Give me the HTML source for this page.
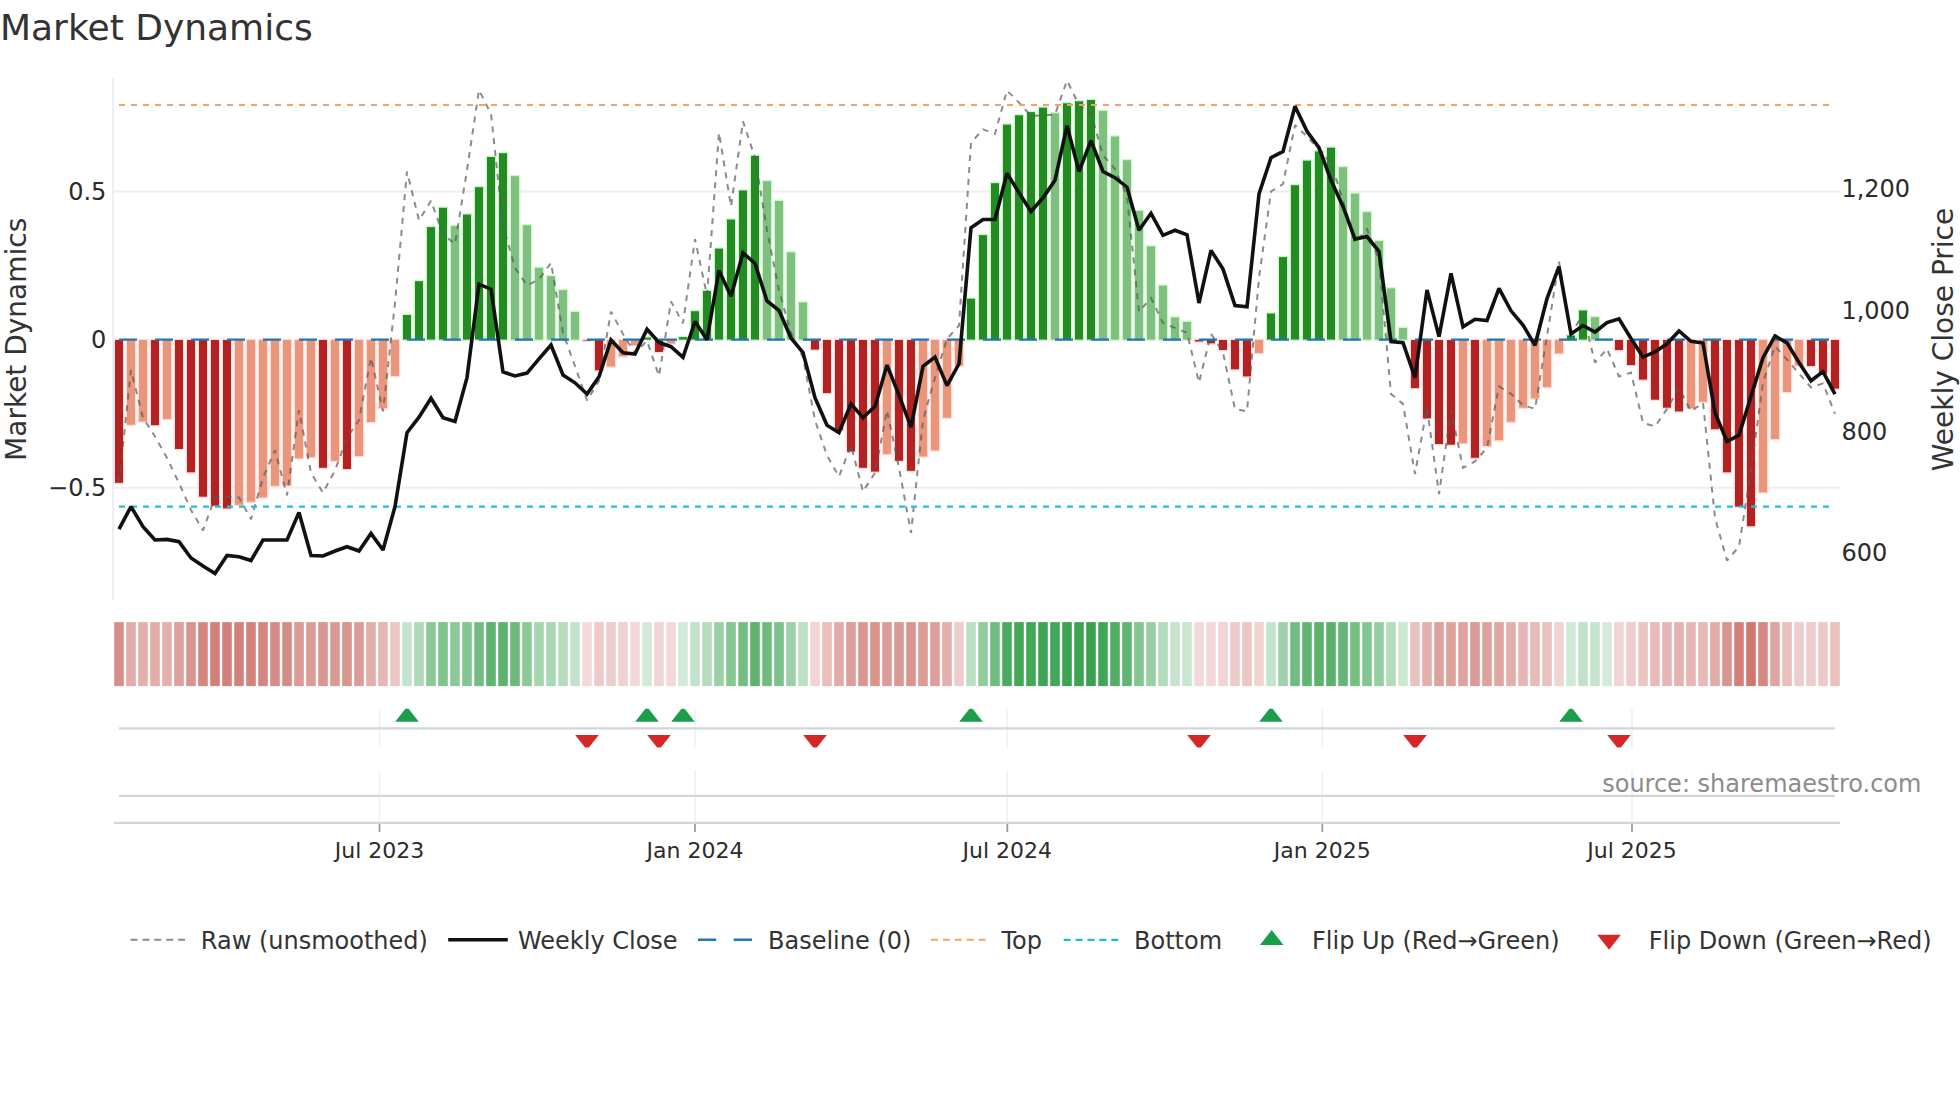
<!DOCTYPE html>
<html lang="en"><head><meta charset="utf-8"><title>Market Dynamics</title>
<style>html,body{margin:0;padding:0;background:#fff;}body{width:1960px;height:1102px;overflow:hidden;}svg{display:block;font-family:"DejaVu Sans", "Liberation Sans", sans-serif;}text{white-space:pre;}</style></head><body>
<svg width="1960" height="1102" viewBox="0 0 1960 1102">
<rect x="0" y="0" width="1960" height="1102" fill="#ffffff"/>
<text x="0" y="40.2" font-size="36" fill="#333333">Market Dynamics</text>
<g id="grid">
<line x1="113" y1="191.4" x2="1840" y2="191.4" stroke="#eeeeee" stroke-width="2"/>
<line x1="113" y1="487.8" x2="1840" y2="487.8" stroke="#eeeeee" stroke-width="2"/>
<line x1="113" y1="78" x2="113" y2="600" stroke="#eeeef6" stroke-width="2"/>
</g>
<g id="bars">
<rect x="115.0" y="340.0" width="8.0" height="142.8" fill="#b22222" fill-opacity="1.00" stroke="#ffd3cf" stroke-width="2.6" stroke-opacity="0.85" paint-order="stroke"/>
<rect x="127.0" y="340.0" width="8.0" height="84.7" fill="#e9967a" fill-opacity="1.00" stroke="#ffd3cf" stroke-width="2.6" stroke-opacity="0.85" paint-order="stroke"/>
<rect x="139.0" y="340.0" width="8.0" height="81.5" fill="#e9967a" fill-opacity="1.00" stroke="#ffd3cf" stroke-width="2.6" stroke-opacity="0.85" paint-order="stroke"/>
<rect x="151.0" y="340.0" width="8.0" height="85.2" fill="#b22222" fill-opacity="1.00" stroke="#ffd3cf" stroke-width="2.6" stroke-opacity="0.85" paint-order="stroke"/>
<rect x="163.0" y="340.0" width="8.0" height="79.0" fill="#e9967a" fill-opacity="1.00" stroke="#ffd3cf" stroke-width="2.6" stroke-opacity="0.85" paint-order="stroke"/>
<rect x="175.0" y="340.0" width="8.0" height="109.0" fill="#b22222" fill-opacity="1.00" stroke="#ffd3cf" stroke-width="2.6" stroke-opacity="0.85" paint-order="stroke"/>
<rect x="187.0" y="340.0" width="8.0" height="132.3" fill="#b22222" fill-opacity="1.00" stroke="#ffd3cf" stroke-width="2.6" stroke-opacity="0.85" paint-order="stroke"/>
<rect x="199.0" y="340.0" width="8.0" height="156.7" fill="#b22222" fill-opacity="1.00" stroke="#ffd3cf" stroke-width="2.6" stroke-opacity="0.85" paint-order="stroke"/>
<rect x="211.0" y="340.0" width="8.0" height="165.7" fill="#b22222" fill-opacity="1.00" stroke="#ffd3cf" stroke-width="2.6" stroke-opacity="0.85" paint-order="stroke"/>
<rect x="223.0" y="340.0" width="8.0" height="168.4" fill="#b22222" fill-opacity="1.00" stroke="#ffd3cf" stroke-width="2.6" stroke-opacity="0.85" paint-order="stroke"/>
<rect x="235.0" y="340.0" width="8.0" height="164.8" fill="#e9967a" fill-opacity="1.00" stroke="#ffd3cf" stroke-width="2.6" stroke-opacity="0.85" paint-order="stroke"/>
<rect x="247.0" y="340.0" width="8.0" height="161.7" fill="#e9967a" fill-opacity="1.00" stroke="#ffd3cf" stroke-width="2.6" stroke-opacity="0.85" paint-order="stroke"/>
<rect x="259.0" y="340.0" width="8.0" height="157.4" fill="#e9967a" fill-opacity="1.00" stroke="#ffd3cf" stroke-width="2.6" stroke-opacity="0.85" paint-order="stroke"/>
<rect x="271.0" y="340.0" width="8.0" height="145.8" fill="#e9967a" fill-opacity="1.00" stroke="#ffd3cf" stroke-width="2.6" stroke-opacity="0.85" paint-order="stroke"/>
<rect x="283.0" y="340.0" width="8.0" height="145.2" fill="#e9967a" fill-opacity="1.00" stroke="#ffd3cf" stroke-width="2.6" stroke-opacity="0.85" paint-order="stroke"/>
<rect x="295.0" y="340.0" width="8.0" height="118.3" fill="#e9967a" fill-opacity="1.00" stroke="#ffd3cf" stroke-width="2.6" stroke-opacity="0.85" paint-order="stroke"/>
<rect x="307.0" y="340.0" width="8.0" height="117.0" fill="#e9967a" fill-opacity="1.00" stroke="#ffd3cf" stroke-width="2.6" stroke-opacity="0.85" paint-order="stroke"/>
<rect x="319.0" y="340.0" width="8.0" height="127.8" fill="#b22222" fill-opacity="1.00" stroke="#ffd3cf" stroke-width="2.6" stroke-opacity="0.85" paint-order="stroke"/>
<rect x="331.0" y="340.0" width="8.0" height="120.8" fill="#e9967a" fill-opacity="1.00" stroke="#ffd3cf" stroke-width="2.6" stroke-opacity="0.85" paint-order="stroke"/>
<rect x="343.0" y="340.0" width="8.0" height="129.0" fill="#b22222" fill-opacity="1.00" stroke="#ffd3cf" stroke-width="2.6" stroke-opacity="0.85" paint-order="stroke"/>
<rect x="355.0" y="340.0" width="8.0" height="116.0" fill="#e9967a" fill-opacity="1.00" stroke="#ffd3cf" stroke-width="2.6" stroke-opacity="0.85" paint-order="stroke"/>
<rect x="367.0" y="340.0" width="8.0" height="82.0" fill="#e9967a" fill-opacity="1.00" stroke="#ffd3cf" stroke-width="2.6" stroke-opacity="0.85" paint-order="stroke"/>
<rect x="379.0" y="340.0" width="8.0" height="68.2" fill="#e9967a" fill-opacity="1.00" stroke="#ffd3cf" stroke-width="2.6" stroke-opacity="0.85" paint-order="stroke"/>
<rect x="391.0" y="340.0" width="8.0" height="35.9" fill="#e9967a" fill-opacity="1.00" stroke="#ffd3cf" stroke-width="2.6" stroke-opacity="0.85" paint-order="stroke"/>
<rect x="403.0" y="315.0" width="8.0" height="24.6" fill="#228b22" fill-opacity="1.00" stroke="#c6f6bf" stroke-width="2.6" stroke-opacity="0.85" paint-order="stroke"/>
<rect x="415.0" y="281.2" width="8.0" height="58.4" fill="#228b22" fill-opacity="1.00" stroke="#c6f6bf" stroke-width="2.6" stroke-opacity="0.85" paint-order="stroke"/>
<rect x="427.0" y="227.1" width="8.0" height="112.5" fill="#228b22" fill-opacity="1.00" stroke="#c6f6bf" stroke-width="2.6" stroke-opacity="0.85" paint-order="stroke"/>
<rect x="439.0" y="207.8" width="8.0" height="131.8" fill="#228b22" fill-opacity="1.00" stroke="#c6f6bf" stroke-width="2.6" stroke-opacity="0.85" paint-order="stroke"/>
<rect x="451.0" y="226.1" width="8.0" height="113.5" fill="#7fbf7f" fill-opacity="1.00" stroke="#c6f6bf" stroke-width="2.6" stroke-opacity="0.85" paint-order="stroke"/>
<rect x="463.0" y="214.5" width="8.0" height="125.1" fill="#228b22" fill-opacity="1.00" stroke="#c6f6bf" stroke-width="2.6" stroke-opacity="0.85" paint-order="stroke"/>
<rect x="475.0" y="187.2" width="8.0" height="152.4" fill="#228b22" fill-opacity="1.00" stroke="#c6f6bf" stroke-width="2.6" stroke-opacity="0.85" paint-order="stroke"/>
<rect x="487.0" y="157.0" width="8.0" height="182.6" fill="#228b22" fill-opacity="1.00" stroke="#c6f6bf" stroke-width="2.6" stroke-opacity="0.85" paint-order="stroke"/>
<rect x="499.0" y="153.2" width="8.0" height="186.4" fill="#228b22" fill-opacity="1.00" stroke="#c6f6bf" stroke-width="2.6" stroke-opacity="0.85" paint-order="stroke"/>
<rect x="511.0" y="176.2" width="8.0" height="163.4" fill="#7fbf7f" fill-opacity="1.00" stroke="#c6f6bf" stroke-width="2.6" stroke-opacity="0.85" paint-order="stroke"/>
<rect x="523.0" y="225.3" width="8.0" height="114.3" fill="#7fbf7f" fill-opacity="1.00" stroke="#c6f6bf" stroke-width="2.6" stroke-opacity="0.85" paint-order="stroke"/>
<rect x="535.0" y="267.9" width="8.0" height="71.7" fill="#7fbf7f" fill-opacity="1.00" stroke="#c6f6bf" stroke-width="2.6" stroke-opacity="0.85" paint-order="stroke"/>
<rect x="547.0" y="276.2" width="8.0" height="63.4" fill="#7fbf7f" fill-opacity="1.00" stroke="#c6f6bf" stroke-width="2.6" stroke-opacity="0.85" paint-order="stroke"/>
<rect x="559.0" y="290.2" width="8.0" height="49.4" fill="#7fbf7f" fill-opacity="1.00" stroke="#c6f6bf" stroke-width="2.6" stroke-opacity="0.85" paint-order="stroke"/>
<rect x="571.0" y="312.0" width="8.0" height="27.6" fill="#7fbf7f" fill-opacity="1.00" stroke="#c6f6bf" stroke-width="2.6" stroke-opacity="0.85" paint-order="stroke"/>
<rect x="583.0" y="340.0" width="8.0" height="0.6" fill="#b22222" fill-opacity="1.00" stroke="#ffd3cf" stroke-width="2.6" stroke-opacity="0.85" paint-order="stroke"/>
<rect x="595.0" y="340.0" width="8.0" height="30.3" fill="#b22222" fill-opacity="1.00" stroke="#ffd3cf" stroke-width="2.6" stroke-opacity="0.85" paint-order="stroke"/>
<rect x="607.0" y="340.0" width="8.0" height="26.4" fill="#e9967a" fill-opacity="1.00" stroke="#ffd3cf" stroke-width="2.6" stroke-opacity="0.85" paint-order="stroke"/>
<rect x="619.0" y="340.0" width="8.0" height="16.3" fill="#e9967a" fill-opacity="1.00" stroke="#ffd3cf" stroke-width="2.6" stroke-opacity="0.85" paint-order="stroke"/>
<rect x="631.0" y="340.0" width="8.0" height="5.2" fill="#e9967a" fill-opacity="1.00" stroke="#ffd3cf" stroke-width="2.6" stroke-opacity="0.85" paint-order="stroke"/>
<rect x="643.0" y="337.6" width="8.0" height="2.0" fill="#228b22" fill-opacity="1.00" stroke="#c6f6bf" stroke-width="2.6" stroke-opacity="0.85" paint-order="stroke"/>
<rect x="655.0" y="340.0" width="8.0" height="12.0" fill="#b22222" fill-opacity="1.00" stroke="#ffd3cf" stroke-width="2.6" stroke-opacity="0.85" paint-order="stroke"/>
<rect x="667.0" y="340.0" width="8.0" height="3.5" fill="#e9967a" fill-opacity="1.00" stroke="#ffd3cf" stroke-width="2.6" stroke-opacity="0.85" paint-order="stroke"/>
<rect x="679.0" y="337.1" width="8.0" height="2.5" fill="#228b22" fill-opacity="1.00" stroke="#c6f6bf" stroke-width="2.6" stroke-opacity="0.85" paint-order="stroke"/>
<rect x="691.0" y="311.2" width="8.0" height="28.4" fill="#228b22" fill-opacity="1.00" stroke="#c6f6bf" stroke-width="2.6" stroke-opacity="0.85" paint-order="stroke"/>
<rect x="703.0" y="291.0" width="8.0" height="48.6" fill="#228b22" fill-opacity="1.00" stroke="#c6f6bf" stroke-width="2.6" stroke-opacity="0.85" paint-order="stroke"/>
<rect x="715.0" y="248.6" width="8.0" height="91.0" fill="#228b22" fill-opacity="1.00" stroke="#c6f6bf" stroke-width="2.6" stroke-opacity="0.85" paint-order="stroke"/>
<rect x="727.0" y="219.5" width="8.0" height="120.1" fill="#228b22" fill-opacity="1.00" stroke="#c6f6bf" stroke-width="2.6" stroke-opacity="0.85" paint-order="stroke"/>
<rect x="739.0" y="190.5" width="8.0" height="149.1" fill="#228b22" fill-opacity="1.00" stroke="#c6f6bf" stroke-width="2.6" stroke-opacity="0.85" paint-order="stroke"/>
<rect x="751.0" y="155.9" width="8.0" height="183.7" fill="#228b22" fill-opacity="1.00" stroke="#c6f6bf" stroke-width="2.6" stroke-opacity="0.85" paint-order="stroke"/>
<rect x="763.0" y="181.2" width="8.0" height="158.4" fill="#7fbf7f" fill-opacity="1.00" stroke="#c6f6bf" stroke-width="2.6" stroke-opacity="0.85" paint-order="stroke"/>
<rect x="775.0" y="201.0" width="8.0" height="138.6" fill="#7fbf7f" fill-opacity="1.00" stroke="#c6f6bf" stroke-width="2.6" stroke-opacity="0.85" paint-order="stroke"/>
<rect x="787.0" y="252.4" width="8.0" height="87.2" fill="#7fbf7f" fill-opacity="1.00" stroke="#c6f6bf" stroke-width="2.6" stroke-opacity="0.85" paint-order="stroke"/>
<rect x="799.0" y="302.5" width="8.0" height="37.1" fill="#7fbf7f" fill-opacity="1.00" stroke="#c6f6bf" stroke-width="2.6" stroke-opacity="0.85" paint-order="stroke"/>
<rect x="811.0" y="340.0" width="8.0" height="9.6" fill="#b22222" fill-opacity="1.00" stroke="#ffd3cf" stroke-width="2.6" stroke-opacity="0.85" paint-order="stroke"/>
<rect x="823.0" y="340.0" width="8.0" height="53.1" fill="#b22222" fill-opacity="1.00" stroke="#ffd3cf" stroke-width="2.6" stroke-opacity="0.85" paint-order="stroke"/>
<rect x="835.0" y="340.0" width="8.0" height="90.2" fill="#b22222" fill-opacity="1.00" stroke="#ffd3cf" stroke-width="2.6" stroke-opacity="0.85" paint-order="stroke"/>
<rect x="847.0" y="340.0" width="8.0" height="111.5" fill="#b22222" fill-opacity="1.00" stroke="#ffd3cf" stroke-width="2.6" stroke-opacity="0.85" paint-order="stroke"/>
<rect x="859.0" y="340.0" width="8.0" height="127.8" fill="#b22222" fill-opacity="1.00" stroke="#ffd3cf" stroke-width="2.6" stroke-opacity="0.85" paint-order="stroke"/>
<rect x="871.0" y="340.0" width="8.0" height="131.6" fill="#b22222" fill-opacity="1.00" stroke="#ffd3cf" stroke-width="2.6" stroke-opacity="0.85" paint-order="stroke"/>
<rect x="883.0" y="340.0" width="8.0" height="114.0" fill="#e9967a" fill-opacity="1.00" stroke="#ffd3cf" stroke-width="2.6" stroke-opacity="0.85" paint-order="stroke"/>
<rect x="895.0" y="340.0" width="8.0" height="120.8" fill="#b22222" fill-opacity="1.00" stroke="#ffd3cf" stroke-width="2.6" stroke-opacity="0.85" paint-order="stroke"/>
<rect x="907.0" y="340.0" width="8.0" height="130.8" fill="#b22222" fill-opacity="1.00" stroke="#ffd3cf" stroke-width="2.6" stroke-opacity="0.85" paint-order="stroke"/>
<rect x="919.0" y="340.0" width="8.0" height="116.5" fill="#e9967a" fill-opacity="1.00" stroke="#ffd3cf" stroke-width="2.6" stroke-opacity="0.85" paint-order="stroke"/>
<rect x="931.0" y="340.0" width="8.0" height="110.3" fill="#e9967a" fill-opacity="1.00" stroke="#ffd3cf" stroke-width="2.6" stroke-opacity="0.85" paint-order="stroke"/>
<rect x="943.0" y="340.0" width="8.0" height="77.7" fill="#e9967a" fill-opacity="1.00" stroke="#ffd3cf" stroke-width="2.6" stroke-opacity="0.85" paint-order="stroke"/>
<rect x="955.0" y="340.0" width="8.0" height="25.6" fill="#e9967a" fill-opacity="1.00" stroke="#ffd3cf" stroke-width="2.6" stroke-opacity="0.85" paint-order="stroke"/>
<rect x="967.0" y="298.7" width="8.0" height="40.9" fill="#228b22" fill-opacity="1.00" stroke="#c6f6bf" stroke-width="2.6" stroke-opacity="0.85" paint-order="stroke"/>
<rect x="979.0" y="235.1" width="8.0" height="104.5" fill="#228b22" fill-opacity="1.00" stroke="#c6f6bf" stroke-width="2.6" stroke-opacity="0.85" paint-order="stroke"/>
<rect x="991.0" y="183.2" width="8.0" height="156.4" fill="#228b22" fill-opacity="1.00" stroke="#c6f6bf" stroke-width="2.6" stroke-opacity="0.85" paint-order="stroke"/>
<rect x="1003.0" y="124.6" width="8.0" height="215.0" fill="#228b22" fill-opacity="1.00" stroke="#c6f6bf" stroke-width="2.6" stroke-opacity="0.85" paint-order="stroke"/>
<rect x="1015.0" y="115.3" width="8.0" height="224.3" fill="#228b22" fill-opacity="1.00" stroke="#c6f6bf" stroke-width="2.6" stroke-opacity="0.85" paint-order="stroke"/>
<rect x="1027.0" y="112.1" width="8.0" height="227.5" fill="#228b22" fill-opacity="1.00" stroke="#c6f6bf" stroke-width="2.6" stroke-opacity="0.85" paint-order="stroke"/>
<rect x="1039.0" y="107.6" width="8.0" height="232.0" fill="#228b22" fill-opacity="1.00" stroke="#c6f6bf" stroke-width="2.6" stroke-opacity="0.85" paint-order="stroke"/>
<rect x="1051.0" y="113.3" width="8.0" height="226.3" fill="#7fbf7f" fill-opacity="1.00" stroke="#c6f6bf" stroke-width="2.6" stroke-opacity="0.85" paint-order="stroke"/>
<rect x="1063.0" y="103.3" width="8.0" height="236.3" fill="#228b22" fill-opacity="1.00" stroke="#c6f6bf" stroke-width="2.6" stroke-opacity="0.85" paint-order="stroke"/>
<rect x="1075.0" y="101.3" width="8.0" height="238.3" fill="#228b22" fill-opacity="1.00" stroke="#c6f6bf" stroke-width="2.6" stroke-opacity="0.85" paint-order="stroke"/>
<rect x="1087.0" y="100.0" width="8.0" height="239.6" fill="#228b22" fill-opacity="1.00" stroke="#c6f6bf" stroke-width="2.6" stroke-opacity="0.85" paint-order="stroke"/>
<rect x="1099.0" y="111.0" width="8.0" height="228.6" fill="#7fbf7f" fill-opacity="1.00" stroke="#c6f6bf" stroke-width="2.6" stroke-opacity="0.85" paint-order="stroke"/>
<rect x="1111.0" y="136.6" width="8.0" height="203.0" fill="#7fbf7f" fill-opacity="1.00" stroke="#c6f6bf" stroke-width="2.6" stroke-opacity="0.85" paint-order="stroke"/>
<rect x="1123.0" y="160.2" width="8.0" height="179.4" fill="#7fbf7f" fill-opacity="1.00" stroke="#c6f6bf" stroke-width="2.6" stroke-opacity="0.85" paint-order="stroke"/>
<rect x="1135.0" y="211.0" width="8.0" height="128.6" fill="#7fbf7f" fill-opacity="1.00" stroke="#c6f6bf" stroke-width="2.6" stroke-opacity="0.85" paint-order="stroke"/>
<rect x="1147.0" y="246.4" width="8.0" height="93.2" fill="#7fbf7f" fill-opacity="1.00" stroke="#c6f6bf" stroke-width="2.6" stroke-opacity="0.85" paint-order="stroke"/>
<rect x="1159.0" y="285.7" width="8.0" height="53.9" fill="#7fbf7f" fill-opacity="1.00" stroke="#c6f6bf" stroke-width="2.6" stroke-opacity="0.85" paint-order="stroke"/>
<rect x="1171.0" y="317.5" width="8.0" height="22.1" fill="#7fbf7f" fill-opacity="1.00" stroke="#c6f6bf" stroke-width="2.6" stroke-opacity="0.85" paint-order="stroke"/>
<rect x="1183.0" y="322.0" width="8.0" height="17.6" fill="#7fbf7f" fill-opacity="1.00" stroke="#c6f6bf" stroke-width="2.6" stroke-opacity="0.85" paint-order="stroke"/>
<rect x="1195.0" y="340.0" width="8.0" height="1.5" fill="#b22222" fill-opacity="1.00" stroke="#ffd3cf" stroke-width="2.6" stroke-opacity="0.85" paint-order="stroke"/>
<rect x="1207.0" y="340.0" width="8.0" height="3.3" fill="#b22222" fill-opacity="1.00" stroke="#ffd3cf" stroke-width="2.6" stroke-opacity="0.85" paint-order="stroke"/>
<rect x="1219.0" y="340.0" width="8.0" height="10.0" fill="#b22222" fill-opacity="1.00" stroke="#ffd3cf" stroke-width="2.6" stroke-opacity="0.85" paint-order="stroke"/>
<rect x="1231.0" y="340.0" width="8.0" height="29.3" fill="#b22222" fill-opacity="1.00" stroke="#ffd3cf" stroke-width="2.6" stroke-opacity="0.85" paint-order="stroke"/>
<rect x="1243.0" y="340.0" width="8.0" height="36.4" fill="#b22222" fill-opacity="1.00" stroke="#ffd3cf" stroke-width="2.6" stroke-opacity="0.85" paint-order="stroke"/>
<rect x="1255.0" y="340.0" width="8.0" height="13.0" fill="#e9967a" fill-opacity="1.00" stroke="#ffd3cf" stroke-width="2.6" stroke-opacity="0.85" paint-order="stroke"/>
<rect x="1267.0" y="313.5" width="8.0" height="26.1" fill="#228b22" fill-opacity="1.00" stroke="#c6f6bf" stroke-width="2.6" stroke-opacity="0.85" paint-order="stroke"/>
<rect x="1279.0" y="257.1" width="8.0" height="82.5" fill="#228b22" fill-opacity="1.00" stroke="#c6f6bf" stroke-width="2.6" stroke-opacity="0.85" paint-order="stroke"/>
<rect x="1291.0" y="185.2" width="8.0" height="154.4" fill="#228b22" fill-opacity="1.00" stroke="#c6f6bf" stroke-width="2.6" stroke-opacity="0.85" paint-order="stroke"/>
<rect x="1303.0" y="160.7" width="8.0" height="178.9" fill="#228b22" fill-opacity="1.00" stroke="#c6f6bf" stroke-width="2.6" stroke-opacity="0.85" paint-order="stroke"/>
<rect x="1315.0" y="151.4" width="8.0" height="188.2" fill="#228b22" fill-opacity="1.00" stroke="#c6f6bf" stroke-width="2.6" stroke-opacity="0.85" paint-order="stroke"/>
<rect x="1327.0" y="147.7" width="8.0" height="191.9" fill="#228b22" fill-opacity="1.00" stroke="#c6f6bf" stroke-width="2.6" stroke-opacity="0.85" paint-order="stroke"/>
<rect x="1339.0" y="167.2" width="8.0" height="172.4" fill="#7fbf7f" fill-opacity="1.00" stroke="#c6f6bf" stroke-width="2.6" stroke-opacity="0.85" paint-order="stroke"/>
<rect x="1351.0" y="193.7" width="8.0" height="145.9" fill="#7fbf7f" fill-opacity="1.00" stroke="#c6f6bf" stroke-width="2.6" stroke-opacity="0.85" paint-order="stroke"/>
<rect x="1363.0" y="212.3" width="8.0" height="127.3" fill="#7fbf7f" fill-opacity="1.00" stroke="#c6f6bf" stroke-width="2.6" stroke-opacity="0.85" paint-order="stroke"/>
<rect x="1375.0" y="241.1" width="8.0" height="98.5" fill="#7fbf7f" fill-opacity="1.00" stroke="#c6f6bf" stroke-width="2.6" stroke-opacity="0.85" paint-order="stroke"/>
<rect x="1387.0" y="288.4" width="8.0" height="51.2" fill="#7fbf7f" fill-opacity="1.00" stroke="#c6f6bf" stroke-width="2.6" stroke-opacity="0.85" paint-order="stroke"/>
<rect x="1399.0" y="328.0" width="8.0" height="11.6" fill="#7fbf7f" fill-opacity="1.00" stroke="#c6f6bf" stroke-width="2.6" stroke-opacity="0.85" paint-order="stroke"/>
<rect x="1411.0" y="340.0" width="8.0" height="48.1" fill="#b22222" fill-opacity="1.00" stroke="#ffd3cf" stroke-width="2.6" stroke-opacity="0.85" paint-order="stroke"/>
<rect x="1423.0" y="340.0" width="8.0" height="78.4" fill="#b22222" fill-opacity="1.00" stroke="#ffd3cf" stroke-width="2.6" stroke-opacity="0.85" paint-order="stroke"/>
<rect x="1435.0" y="340.0" width="8.0" height="104.0" fill="#b22222" fill-opacity="1.00" stroke="#ffd3cf" stroke-width="2.6" stroke-opacity="0.85" paint-order="stroke"/>
<rect x="1447.0" y="340.0" width="8.0" height="104.7" fill="#b22222" fill-opacity="1.00" stroke="#ffd3cf" stroke-width="2.6" stroke-opacity="0.85" paint-order="stroke"/>
<rect x="1459.0" y="340.0" width="8.0" height="103.2" fill="#e9967a" fill-opacity="1.00" stroke="#ffd3cf" stroke-width="2.6" stroke-opacity="0.85" paint-order="stroke"/>
<rect x="1471.0" y="340.0" width="8.0" height="117.8" fill="#b22222" fill-opacity="1.00" stroke="#ffd3cf" stroke-width="2.6" stroke-opacity="0.85" paint-order="stroke"/>
<rect x="1483.0" y="340.0" width="8.0" height="106.0" fill="#e9967a" fill-opacity="1.00" stroke="#ffd3cf" stroke-width="2.6" stroke-opacity="0.85" paint-order="stroke"/>
<rect x="1495.0" y="340.0" width="8.0" height="100.2" fill="#e9967a" fill-opacity="1.00" stroke="#ffd3cf" stroke-width="2.6" stroke-opacity="0.85" paint-order="stroke"/>
<rect x="1507.0" y="340.0" width="8.0" height="81.8" fill="#e9967a" fill-opacity="1.00" stroke="#ffd3cf" stroke-width="2.6" stroke-opacity="0.85" paint-order="stroke"/>
<rect x="1519.0" y="340.0" width="8.0" height="67.7" fill="#e9967a" fill-opacity="1.00" stroke="#ffd3cf" stroke-width="2.6" stroke-opacity="0.85" paint-order="stroke"/>
<rect x="1531.0" y="340.0" width="8.0" height="58.4" fill="#e9967a" fill-opacity="1.00" stroke="#ffd3cf" stroke-width="2.6" stroke-opacity="0.85" paint-order="stroke"/>
<rect x="1543.0" y="340.0" width="8.0" height="47.1" fill="#e9967a" fill-opacity="1.00" stroke="#ffd3cf" stroke-width="2.6" stroke-opacity="0.85" paint-order="stroke"/>
<rect x="1555.0" y="340.0" width="8.0" height="13.3" fill="#e9967a" fill-opacity="1.00" stroke="#ffd3cf" stroke-width="2.6" stroke-opacity="0.85" paint-order="stroke"/>
<rect x="1567.0" y="335.5" width="8.0" height="4.1" fill="#228b22" fill-opacity="1.00" stroke="#c6f6bf" stroke-width="2.6" stroke-opacity="0.85" paint-order="stroke"/>
<rect x="1579.0" y="310.5" width="8.0" height="29.1" fill="#228b22" fill-opacity="1.00" stroke="#c6f6bf" stroke-width="2.6" stroke-opacity="0.85" paint-order="stroke"/>
<rect x="1591.0" y="317.2" width="8.0" height="22.4" fill="#7fbf7f" fill-opacity="1.00" stroke="#c6f6bf" stroke-width="2.6" stroke-opacity="0.85" paint-order="stroke"/>
<rect x="1603.0" y="339.3" width="8.0" height="0.6" fill="#7fbf7f" fill-opacity="1.00" stroke="#c6f6bf" stroke-width="2.6" stroke-opacity="0.85" paint-order="stroke"/>
<rect x="1615.0" y="340.0" width="8.0" height="10.0" fill="#b22222" fill-opacity="1.00" stroke="#ffd3cf" stroke-width="2.6" stroke-opacity="0.85" paint-order="stroke"/>
<rect x="1627.0" y="340.0" width="8.0" height="25.1" fill="#b22222" fill-opacity="1.00" stroke="#ffd3cf" stroke-width="2.6" stroke-opacity="0.85" paint-order="stroke"/>
<rect x="1639.0" y="340.0" width="8.0" height="39.6" fill="#b22222" fill-opacity="1.00" stroke="#ffd3cf" stroke-width="2.6" stroke-opacity="0.85" paint-order="stroke"/>
<rect x="1651.0" y="340.0" width="8.0" height="59.7" fill="#b22222" fill-opacity="1.00" stroke="#ffd3cf" stroke-width="2.6" stroke-opacity="0.85" paint-order="stroke"/>
<rect x="1663.0" y="340.0" width="8.0" height="67.7" fill="#b22222" fill-opacity="1.00" stroke="#ffd3cf" stroke-width="2.6" stroke-opacity="0.85" paint-order="stroke"/>
<rect x="1675.0" y="340.0" width="8.0" height="71.4" fill="#b22222" fill-opacity="1.00" stroke="#ffd3cf" stroke-width="2.6" stroke-opacity="0.85" paint-order="stroke"/>
<rect x="1687.0" y="340.0" width="8.0" height="68.2" fill="#e9967a" fill-opacity="1.00" stroke="#ffd3cf" stroke-width="2.6" stroke-opacity="0.85" paint-order="stroke"/>
<rect x="1699.0" y="340.0" width="8.0" height="61.7" fill="#e9967a" fill-opacity="1.00" stroke="#ffd3cf" stroke-width="2.6" stroke-opacity="0.85" paint-order="stroke"/>
<rect x="1711.0" y="340.0" width="8.0" height="89.2" fill="#b22222" fill-opacity="1.00" stroke="#ffd3cf" stroke-width="2.6" stroke-opacity="0.85" paint-order="stroke"/>
<rect x="1723.0" y="340.0" width="8.0" height="132.3" fill="#b22222" fill-opacity="1.00" stroke="#ffd3cf" stroke-width="2.6" stroke-opacity="0.85" paint-order="stroke"/>
<rect x="1735.0" y="340.0" width="8.0" height="166.6" fill="#b22222" fill-opacity="1.00" stroke="#ffd3cf" stroke-width="2.6" stroke-opacity="0.85" paint-order="stroke"/>
<rect x="1747.0" y="340.0" width="8.0" height="186.2" fill="#b22222" fill-opacity="1.00" stroke="#ffd3cf" stroke-width="2.6" stroke-opacity="0.85" paint-order="stroke"/>
<rect x="1759.0" y="340.0" width="8.0" height="152.3" fill="#e9967a" fill-opacity="1.00" stroke="#ffd3cf" stroke-width="2.6" stroke-opacity="0.85" paint-order="stroke"/>
<rect x="1771.0" y="340.0" width="8.0" height="99.0" fill="#e9967a" fill-opacity="1.00" stroke="#ffd3cf" stroke-width="2.6" stroke-opacity="0.85" paint-order="stroke"/>
<rect x="1783.0" y="340.0" width="8.0" height="52.0" fill="#e9967a" fill-opacity="1.00" stroke="#ffd3cf" stroke-width="2.6" stroke-opacity="0.85" paint-order="stroke"/>
<rect x="1795.0" y="340.0" width="8.0" height="25.5" fill="#e9967a" fill-opacity="1.00" stroke="#ffd3cf" stroke-width="2.6" stroke-opacity="0.85" paint-order="stroke"/>
<rect x="1807.0" y="340.0" width="8.0" height="26.0" fill="#b22222" fill-opacity="1.00" stroke="#ffd3cf" stroke-width="2.6" stroke-opacity="0.85" paint-order="stroke"/>
<rect x="1819.0" y="340.0" width="8.0" height="33.5" fill="#b22222" fill-opacity="1.00" stroke="#ffd3cf" stroke-width="2.6" stroke-opacity="0.85" paint-order="stroke"/>
<rect x="1831.0" y="340.0" width="8.0" height="48.6" fill="#b22222" fill-opacity="1.00" stroke="#ffd3cf" stroke-width="2.6" stroke-opacity="0.85" paint-order="stroke"/>
</g>
<polyline id="raw" points="119.0,482.8 131.0,370.1 143.0,417.7 155.0,436.5 167.0,458.0 179.0,483.0 191.0,510.0 203.0,530.4 215.0,497.4 227.0,496.6 239.0,497.4 251.0,519.2 263.0,477.8 275.0,450.3 287.0,495.4 299.0,410.2 311.0,472.8 323.0,492.8 335.0,470.3 347.0,437.7 359.0,420.2 371.0,357.6 383.0,411.4 395.0,303.0 407.0,171.5 419.0,220.3 431.0,200.8 443.0,234.1 455.0,244.1 467.0,170.2 479.0,90.0 491.0,113.8 503.0,225.3 515.0,267.9 527.0,285.4 539.0,279.2 551.0,262.9 563.0,333.0 575.0,366.0 587.0,400.5 599.0,380.8 611.0,311.6 623.0,334.0 635.0,353.3 647.0,340.8 659.0,376.0 671.0,301.5 683.0,323.2 695.0,239.1 707.0,295.5 719.0,132.6 731.0,206.5 743.0,121.4 755.0,157.7 767.0,230.3 779.0,290.4 791.0,333.0 803.0,357.6 815.0,420.2 827.0,455.3 839.0,476.6 851.0,445.3 863.0,491.6 875.0,472.8 887.0,410.2 899.0,467.8 911.0,532.9 923.0,420.2 935.0,377.6 947.0,338.8 959.0,325.5 971.0,142.6 983.0,129.4 995.0,133.9 1007.0,90.5 1019.0,102.6 1031.0,115.8 1043.0,115.4 1055.0,114.6 1067.0,80.5 1079.0,105.0 1091.0,113.8 1103.0,155.2 1115.0,169.0 1127.0,196.5 1139.0,311.7 1151.0,298.0 1163.0,323.0 1175.0,328.0 1187.0,332.8 1199.0,382.6 1211.0,333.8 1223.0,352.6 1235.0,408.9 1247.0,411.4 1259.0,278.0 1271.0,191.5 1283.0,184.0 1295.0,125.1 1307.0,136.4 1319.0,150.2 1331.0,162.7 1343.0,200.3 1355.0,242.8 1367.0,229.1 1379.0,260.4 1391.0,393.9 1403.0,403.9 1415.0,474.1 1427.0,407.7 1439.0,494.1 1451.0,410.2 1463.0,467.8 1475.0,461.5 1487.0,447.8 1499.0,386.4 1511.0,393.9 1523.0,405.2 1535.0,408.9 1547.0,336.0 1559.0,261.6 1571.0,334.0 1583.0,314.2 1595.0,362.6 1607.0,348.8 1619.0,376.4 1631.0,372.6 1643.0,422.7 1655.0,426.5 1667.0,408.9 1679.0,387.6 1691.0,411.4 1703.0,402.7 1715.0,517.9 1727.0,560.5 1739.0,546.7 1751.0,470.3 1763.0,382.6 1775.0,346.2 1787.0,359.6 1799.0,373.5 1811.0,387.5 1823.0,383.4 1835.0,413.8" fill="none" stroke="#5a5a5a" stroke-opacity="0.7" stroke-width="2" stroke-dasharray="6,6" stroke-linejoin="miter" stroke-miterlimit="2"/>
<line id="baseline" x1="119" y1="339.6" x2="1835" y2="339.6" stroke="#1f77b4" stroke-width="2.4" stroke-dasharray="18,18"/>
<line id="top" x1="119" y1="105.1" x2="1835" y2="105.1" stroke="#f4a460" stroke-width="2" stroke-dasharray="6,6"/>
<line id="bottom" x1="119" y1="506.7" x2="1835" y2="506.7" stroke="#25bfd2" stroke-width="2.2" stroke-dasharray="6,6"/>
<polyline id="close" points="119.0,529.2 131.0,506.6 143.0,526.7 155.0,540.0 167.0,539.4 179.0,541.7 191.0,558.0 203.0,566.0 215.0,573.5 227.0,555.5 239.0,556.7 251.0,560.5 263.0,540.0 275.0,540.0 287.0,540.0 299.0,512.4 311.0,555.5 323.0,556.0 335.0,551.0 347.0,546.7 359.0,551.0 371.0,533.4 383.0,550.0 395.0,506.6 407.0,432.7 419.0,417.2 431.0,398.2 443.0,417.7 455.0,421.5 467.0,377.6 479.0,284.2 491.0,289.2 503.0,371.9 515.0,375.9 527.0,373.1 539.0,358.8 551.0,345.0 563.0,375.0 575.0,382.8 587.0,394.0 599.0,376.7 611.0,340.0 623.0,352.8 635.0,354.0 647.0,329.2 659.0,342.5 671.0,346.7 683.0,357.4 695.0,321.5 707.0,339.8 719.0,270.4 731.0,296.2 743.0,252.9 755.0,263.4 767.0,301.0 779.0,310.5 791.0,338.0 803.0,352.6 815.0,397.7 827.0,425.2 839.0,432.7 851.0,403.9 863.0,417.7 875.0,406.4 887.0,365.1 899.0,395.2 911.0,427.2 923.0,366.3 935.0,357.1 947.0,385.6 959.0,363.8 971.0,227.8 983.0,219.5 995.0,219.5 1007.0,173.2 1019.0,192.7 1031.0,211.5 1043.0,197.8 1055.0,180.2 1067.0,125.6 1079.0,171.5 1091.0,140.6 1103.0,171.5 1115.0,177.7 1127.0,187.2 1139.0,230.3 1151.0,213.3 1163.0,235.3 1175.0,230.3 1187.0,234.8 1199.0,303.0 1211.0,250.4 1223.0,269.1 1235.0,305.5 1247.0,306.7 1259.0,194.0 1271.0,157.7 1283.0,151.4 1295.0,106.3 1307.0,131.4 1319.0,147.7 1331.0,180.2 1343.0,206.5 1355.0,239.1 1367.0,236.6 1379.0,251.6 1391.0,341.5 1403.0,342.7 1415.0,377.6 1427.0,289.9 1439.0,336.6 1451.0,273.4 1463.0,326.8 1475.0,319.3 1487.0,320.5 1499.0,288.4 1511.0,310.8 1523.0,325.0 1535.0,345.3 1547.0,298.5 1559.0,266.6 1571.0,334.0 1583.0,325.5 1595.0,332.0 1607.0,322.5 1619.0,318.8 1631.0,338.5 1643.0,357.1 1655.0,352.0 1667.0,343.8 1679.0,331.0 1691.0,341.3 1703.0,343.0 1715.0,412.7 1727.0,441.5 1739.0,435.2 1751.0,396.4 1763.0,357.6 1775.0,336.0 1787.0,342.9 1799.0,362.5 1811.0,380.8 1823.0,371.6 1835.0,394.2" fill="none" stroke="#111111" stroke-width="3.6" stroke-linejoin="miter" stroke-miterlimit="2"/>
<text x="106.3" y="200.3" font-size="24" fill="#2b2b2b" text-anchor="end">0.5</text>
<text x="106.3" y="348.3" font-size="24" fill="#2b2b2b" text-anchor="end">0</text>
<text x="106.3" y="496.4" font-size="24" fill="#2b2b2b" text-anchor="end">−0.5</text>
<text x="1841.4" y="197.0" font-size="24" fill="#2b2b2b">1,200</text>
<text x="1841.4" y="318.8" font-size="24" fill="#2b2b2b">1,000</text>
<text x="1841.4" y="439.7" font-size="24" fill="#2b2b2b">800</text>
<text x="1841.4" y="561.3" font-size="24" fill="#2b2b2b">600</text>
<text transform="translate(26.3,339.3) rotate(-90)" font-size="28" fill="#333333" text-anchor="middle">Market Dynamics</text>
<text transform="translate(1953.2,339.5) rotate(-90)" font-size="28" fill="#333333" text-anchor="middle">Weekly Close Price</text>
<g id="heat">
<rect x="114.2" y="622.1" width="9.6" height="64" fill="rgb(188,66,56)" fill-opacity="0.600"/>
<rect x="126.2" y="622.1" width="9.6" height="64" fill="rgb(188,66,56)" fill-opacity="0.434"/>
<rect x="138.2" y="622.1" width="9.6" height="64" fill="rgb(188,66,56)" fill-opacity="0.424"/>
<rect x="150.2" y="622.1" width="9.6" height="64" fill="rgb(188,66,56)" fill-opacity="0.435"/>
<rect x="162.2" y="622.1" width="9.6" height="64" fill="rgb(188,66,56)" fill-opacity="0.417"/>
<rect x="174.2" y="622.1" width="9.6" height="64" fill="rgb(188,66,56)" fill-opacity="0.503"/>
<rect x="186.2" y="622.1" width="9.6" height="64" fill="rgb(188,66,56)" fill-opacity="0.570"/>
<rect x="198.2" y="622.1" width="9.6" height="64" fill="rgb(188,66,56)" fill-opacity="0.640"/>
<rect x="210.2" y="622.1" width="9.6" height="64" fill="rgb(188,66,56)" fill-opacity="0.665"/>
<rect x="222.2" y="622.1" width="9.6" height="64" fill="rgb(188,66,56)" fill-opacity="0.673"/>
<rect x="234.2" y="622.1" width="9.6" height="64" fill="rgb(188,66,56)" fill-opacity="0.663"/>
<rect x="246.2" y="622.1" width="9.6" height="64" fill="rgb(188,66,56)" fill-opacity="0.654"/>
<rect x="258.2" y="622.1" width="9.6" height="64" fill="rgb(188,66,56)" fill-opacity="0.642"/>
<rect x="270.2" y="622.1" width="9.6" height="64" fill="rgb(188,66,56)" fill-opacity="0.608"/>
<rect x="282.2" y="622.1" width="9.6" height="64" fill="rgb(188,66,56)" fill-opacity="0.607"/>
<rect x="294.2" y="622.1" width="9.6" height="64" fill="rgb(188,66,56)" fill-opacity="0.530"/>
<rect x="306.2" y="622.1" width="9.6" height="64" fill="rgb(188,66,56)" fill-opacity="0.526"/>
<rect x="318.2" y="622.1" width="9.6" height="64" fill="rgb(188,66,56)" fill-opacity="0.557"/>
<rect x="330.2" y="622.1" width="9.6" height="64" fill="rgb(188,66,56)" fill-opacity="0.537"/>
<rect x="342.2" y="622.1" width="9.6" height="64" fill="rgb(188,66,56)" fill-opacity="0.560"/>
<rect x="354.2" y="622.1" width="9.6" height="64" fill="rgb(188,66,56)" fill-opacity="0.523"/>
<rect x="366.2" y="622.1" width="9.6" height="64" fill="rgb(188,66,56)" fill-opacity="0.426"/>
<rect x="378.2" y="622.1" width="9.6" height="64" fill="rgb(188,66,56)" fill-opacity="0.386"/>
<rect x="390.2" y="622.1" width="9.6" height="64" fill="rgb(188,66,56)" fill-opacity="0.294"/>
<rect x="402.2" y="622.1" width="9.6" height="64" fill="rgb(30,150,55)" fill-opacity="0.260"/>
<rect x="414.2" y="622.1" width="9.6" height="64" fill="rgb(30,150,55)" fill-opacity="0.357"/>
<rect x="426.2" y="622.1" width="9.6" height="64" fill="rgb(30,150,55)" fill-opacity="0.512"/>
<rect x="438.2" y="622.1" width="9.6" height="64" fill="rgb(30,150,55)" fill-opacity="0.567"/>
<rect x="450.2" y="622.1" width="9.6" height="64" fill="rgb(30,150,55)" fill-opacity="0.515"/>
<rect x="462.2" y="622.1" width="9.6" height="64" fill="rgb(30,150,55)" fill-opacity="0.548"/>
<rect x="474.2" y="622.1" width="9.6" height="64" fill="rgb(30,150,55)" fill-opacity="0.626"/>
<rect x="486.2" y="622.1" width="9.6" height="64" fill="rgb(30,150,55)" fill-opacity="0.713"/>
<rect x="498.2" y="622.1" width="9.6" height="64" fill="rgb(30,150,55)" fill-opacity="0.723"/>
<rect x="510.2" y="622.1" width="9.6" height="64" fill="rgb(30,150,55)" fill-opacity="0.658"/>
<rect x="522.2" y="622.1" width="9.6" height="64" fill="rgb(30,150,55)" fill-opacity="0.517"/>
<rect x="534.2" y="622.1" width="9.6" height="64" fill="rgb(30,150,55)" fill-opacity="0.395"/>
<rect x="546.2" y="622.1" width="9.6" height="64" fill="rgb(30,150,55)" fill-opacity="0.371"/>
<rect x="558.2" y="622.1" width="9.6" height="64" fill="rgb(30,150,55)" fill-opacity="0.331"/>
<rect x="570.2" y="622.1" width="9.6" height="64" fill="rgb(30,150,55)" fill-opacity="0.269"/>
<rect x="582.2" y="622.1" width="9.6" height="64" fill="rgb(188,66,56)" fill-opacity="0.192"/>
<rect x="594.2" y="622.1" width="9.6" height="64" fill="rgb(188,66,56)" fill-opacity="0.278"/>
<rect x="606.2" y="622.1" width="9.6" height="64" fill="rgb(188,66,56)" fill-opacity="0.267"/>
<rect x="618.2" y="622.1" width="9.6" height="64" fill="rgb(188,66,56)" fill-opacity="0.238"/>
<rect x="630.2" y="622.1" width="9.6" height="64" fill="rgb(188,66,56)" fill-opacity="0.206"/>
<rect x="642.2" y="622.1" width="9.6" height="64" fill="rgb(30,150,55)" fill-opacity="0.196"/>
<rect x="654.2" y="622.1" width="9.6" height="64" fill="rgb(188,66,56)" fill-opacity="0.225"/>
<rect x="666.2" y="622.1" width="9.6" height="64" fill="rgb(188,66,56)" fill-opacity="0.201"/>
<rect x="678.2" y="622.1" width="9.6" height="64" fill="rgb(30,150,55)" fill-opacity="0.197"/>
<rect x="690.2" y="622.1" width="9.6" height="64" fill="rgb(30,150,55)" fill-opacity="0.271"/>
<rect x="702.2" y="622.1" width="9.6" height="64" fill="rgb(30,150,55)" fill-opacity="0.329"/>
<rect x="714.2" y="622.1" width="9.6" height="64" fill="rgb(30,150,55)" fill-opacity="0.450"/>
<rect x="726.2" y="622.1" width="9.6" height="64" fill="rgb(30,150,55)" fill-opacity="0.534"/>
<rect x="738.2" y="622.1" width="9.6" height="64" fill="rgb(30,150,55)" fill-opacity="0.617"/>
<rect x="750.2" y="622.1" width="9.6" height="64" fill="rgb(30,150,55)" fill-opacity="0.716"/>
<rect x="762.2" y="622.1" width="9.6" height="64" fill="rgb(30,150,55)" fill-opacity="0.643"/>
<rect x="774.2" y="622.1" width="9.6" height="64" fill="rgb(30,150,55)" fill-opacity="0.587"/>
<rect x="786.2" y="622.1" width="9.6" height="64" fill="rgb(30,150,55)" fill-opacity="0.440"/>
<rect x="798.2" y="622.1" width="9.6" height="64" fill="rgb(30,150,55)" fill-opacity="0.296"/>
<rect x="810.2" y="622.1" width="9.6" height="64" fill="rgb(188,66,56)" fill-opacity="0.219"/>
<rect x="822.2" y="622.1" width="9.6" height="64" fill="rgb(188,66,56)" fill-opacity="0.343"/>
<rect x="834.2" y="622.1" width="9.6" height="64" fill="rgb(188,66,56)" fill-opacity="0.449"/>
<rect x="846.2" y="622.1" width="9.6" height="64" fill="rgb(188,66,56)" fill-opacity="0.510"/>
<rect x="858.2" y="622.1" width="9.6" height="64" fill="rgb(188,66,56)" fill-opacity="0.557"/>
<rect x="870.2" y="622.1" width="9.6" height="64" fill="rgb(188,66,56)" fill-opacity="0.568"/>
<rect x="882.2" y="622.1" width="9.6" height="64" fill="rgb(188,66,56)" fill-opacity="0.517"/>
<rect x="894.2" y="622.1" width="9.6" height="64" fill="rgb(188,66,56)" fill-opacity="0.537"/>
<rect x="906.2" y="622.1" width="9.6" height="64" fill="rgb(188,66,56)" fill-opacity="0.565"/>
<rect x="918.2" y="622.1" width="9.6" height="64" fill="rgb(188,66,56)" fill-opacity="0.525"/>
<rect x="930.2" y="622.1" width="9.6" height="64" fill="rgb(188,66,56)" fill-opacity="0.507"/>
<rect x="942.2" y="622.1" width="9.6" height="64" fill="rgb(188,66,56)" fill-opacity="0.414"/>
<rect x="954.2" y="622.1" width="9.6" height="64" fill="rgb(188,66,56)" fill-opacity="0.264"/>
<rect x="966.2" y="622.1" width="9.6" height="64" fill="rgb(30,150,55)" fill-opacity="0.307"/>
<rect x="978.2" y="622.1" width="9.6" height="64" fill="rgb(30,150,55)" fill-opacity="0.489"/>
<rect x="990.2" y="622.1" width="9.6" height="64" fill="rgb(30,150,55)" fill-opacity="0.638"/>
<rect x="1002.2" y="622.1" width="9.6" height="64" fill="rgb(30,150,55)" fill-opacity="0.805"/>
<rect x="1014.2" y="622.1" width="9.6" height="64" fill="rgb(30,150,55)" fill-opacity="0.832"/>
<rect x="1026.2" y="622.1" width="9.6" height="64" fill="rgb(30,150,55)" fill-opacity="0.841"/>
<rect x="1038.2" y="622.1" width="9.6" height="64" fill="rgb(30,150,55)" fill-opacity="0.854"/>
<rect x="1050.2" y="622.1" width="9.6" height="64" fill="rgb(30,150,55)" fill-opacity="0.838"/>
<rect x="1062.2" y="622.1" width="9.6" height="64" fill="rgb(30,150,55)" fill-opacity="0.866"/>
<rect x="1074.2" y="622.1" width="9.6" height="64" fill="rgb(30,150,55)" fill-opacity="0.872"/>
<rect x="1086.2" y="622.1" width="9.6" height="64" fill="rgb(30,150,55)" fill-opacity="0.876"/>
<rect x="1098.2" y="622.1" width="9.6" height="64" fill="rgb(30,150,55)" fill-opacity="0.844"/>
<rect x="1110.2" y="622.1" width="9.6" height="64" fill="rgb(30,150,55)" fill-opacity="0.771"/>
<rect x="1122.2" y="622.1" width="9.6" height="64" fill="rgb(30,150,55)" fill-opacity="0.703"/>
<rect x="1134.2" y="622.1" width="9.6" height="64" fill="rgb(30,150,55)" fill-opacity="0.558"/>
<rect x="1146.2" y="622.1" width="9.6" height="64" fill="rgb(30,150,55)" fill-opacity="0.457"/>
<rect x="1158.2" y="622.1" width="9.6" height="64" fill="rgb(30,150,55)" fill-opacity="0.344"/>
<rect x="1170.2" y="622.1" width="9.6" height="64" fill="rgb(30,150,55)" fill-opacity="0.253"/>
<rect x="1182.2" y="622.1" width="9.6" height="64" fill="rgb(30,150,55)" fill-opacity="0.240"/>
<rect x="1194.2" y="622.1" width="9.6" height="64" fill="rgb(188,66,56)" fill-opacity="0.195"/>
<rect x="1206.2" y="622.1" width="9.6" height="64" fill="rgb(188,66,56)" fill-opacity="0.201"/>
<rect x="1218.2" y="622.1" width="9.6" height="64" fill="rgb(188,66,56)" fill-opacity="0.220"/>
<rect x="1230.2" y="622.1" width="9.6" height="64" fill="rgb(188,66,56)" fill-opacity="0.275"/>
<rect x="1242.2" y="622.1" width="9.6" height="64" fill="rgb(188,66,56)" fill-opacity="0.295"/>
<rect x="1254.2" y="622.1" width="9.6" height="64" fill="rgb(188,66,56)" fill-opacity="0.228"/>
<rect x="1266.2" y="622.1" width="9.6" height="64" fill="rgb(30,150,55)" fill-opacity="0.265"/>
<rect x="1278.2" y="622.1" width="9.6" height="64" fill="rgb(30,150,55)" fill-opacity="0.426"/>
<rect x="1290.2" y="622.1" width="9.6" height="64" fill="rgb(30,150,55)" fill-opacity="0.632"/>
<rect x="1302.2" y="622.1" width="9.6" height="64" fill="rgb(30,150,55)" fill-opacity="0.702"/>
<rect x="1314.2" y="622.1" width="9.6" height="64" fill="rgb(30,150,55)" fill-opacity="0.729"/>
<rect x="1326.2" y="622.1" width="9.6" height="64" fill="rgb(30,150,55)" fill-opacity="0.739"/>
<rect x="1338.2" y="622.1" width="9.6" height="64" fill="rgb(30,150,55)" fill-opacity="0.683"/>
<rect x="1350.2" y="622.1" width="9.6" height="64" fill="rgb(30,150,55)" fill-opacity="0.608"/>
<rect x="1362.2" y="622.1" width="9.6" height="64" fill="rgb(30,150,55)" fill-opacity="0.554"/>
<rect x="1374.2" y="622.1" width="9.6" height="64" fill="rgb(30,150,55)" fill-opacity="0.472"/>
<rect x="1386.2" y="622.1" width="9.6" height="64" fill="rgb(30,150,55)" fill-opacity="0.337"/>
<rect x="1398.2" y="622.1" width="9.6" height="64" fill="rgb(30,150,55)" fill-opacity="0.223"/>
<rect x="1410.2" y="622.1" width="9.6" height="64" fill="rgb(188,66,56)" fill-opacity="0.329"/>
<rect x="1422.2" y="622.1" width="9.6" height="64" fill="rgb(188,66,56)" fill-opacity="0.416"/>
<rect x="1434.2" y="622.1" width="9.6" height="64" fill="rgb(188,66,56)" fill-opacity="0.489"/>
<rect x="1446.2" y="622.1" width="9.6" height="64" fill="rgb(188,66,56)" fill-opacity="0.491"/>
<rect x="1458.2" y="622.1" width="9.6" height="64" fill="rgb(188,66,56)" fill-opacity="0.486"/>
<rect x="1470.2" y="622.1" width="9.6" height="64" fill="rgb(188,66,56)" fill-opacity="0.528"/>
<rect x="1482.2" y="622.1" width="9.6" height="64" fill="rgb(188,66,56)" fill-opacity="0.495"/>
<rect x="1494.2" y="622.1" width="9.6" height="64" fill="rgb(188,66,56)" fill-opacity="0.478"/>
<rect x="1506.2" y="622.1" width="9.6" height="64" fill="rgb(188,66,56)" fill-opacity="0.425"/>
<rect x="1518.2" y="622.1" width="9.6" height="64" fill="rgb(188,66,56)" fill-opacity="0.385"/>
<rect x="1530.2" y="622.1" width="9.6" height="64" fill="rgb(188,66,56)" fill-opacity="0.358"/>
<rect x="1542.2" y="622.1" width="9.6" height="64" fill="rgb(188,66,56)" fill-opacity="0.326"/>
<rect x="1554.2" y="622.1" width="9.6" height="64" fill="rgb(188,66,56)" fill-opacity="0.229"/>
<rect x="1566.2" y="622.1" width="9.6" height="64" fill="rgb(30,150,55)" fill-opacity="0.202"/>
<rect x="1578.2" y="622.1" width="9.6" height="64" fill="rgb(30,150,55)" fill-opacity="0.273"/>
<rect x="1590.2" y="622.1" width="9.6" height="64" fill="rgb(30,150,55)" fill-opacity="0.254"/>
<rect x="1602.2" y="622.1" width="9.6" height="64" fill="rgb(30,150,55)" fill-opacity="0.191"/>
<rect x="1614.2" y="622.1" width="9.6" height="64" fill="rgb(188,66,56)" fill-opacity="0.220"/>
<rect x="1626.2" y="622.1" width="9.6" height="64" fill="rgb(188,66,56)" fill-opacity="0.263"/>
<rect x="1638.2" y="622.1" width="9.6" height="64" fill="rgb(188,66,56)" fill-opacity="0.304"/>
<rect x="1650.2" y="622.1" width="9.6" height="64" fill="rgb(188,66,56)" fill-opacity="0.362"/>
<rect x="1662.2" y="622.1" width="9.6" height="64" fill="rgb(188,66,56)" fill-opacity="0.385"/>
<rect x="1674.2" y="622.1" width="9.6" height="64" fill="rgb(188,66,56)" fill-opacity="0.395"/>
<rect x="1686.2" y="622.1" width="9.6" height="64" fill="rgb(188,66,56)" fill-opacity="0.386"/>
<rect x="1698.2" y="622.1" width="9.6" height="64" fill="rgb(188,66,56)" fill-opacity="0.368"/>
<rect x="1710.2" y="622.1" width="9.6" height="64" fill="rgb(188,66,56)" fill-opacity="0.446"/>
<rect x="1722.2" y="622.1" width="9.6" height="64" fill="rgb(188,66,56)" fill-opacity="0.570"/>
<rect x="1734.2" y="622.1" width="9.6" height="64" fill="rgb(188,66,56)" fill-opacity="0.668"/>
<rect x="1746.2" y="622.1" width="9.6" height="64" fill="rgb(188,66,56)" fill-opacity="0.724"/>
<rect x="1758.2" y="622.1" width="9.6" height="64" fill="rgb(188,66,56)" fill-opacity="0.627"/>
<rect x="1770.2" y="622.1" width="9.6" height="64" fill="rgb(188,66,56)" fill-opacity="0.474"/>
<rect x="1782.2" y="622.1" width="9.6" height="64" fill="rgb(188,66,56)" fill-opacity="0.340"/>
<rect x="1794.2" y="622.1" width="9.6" height="64" fill="rgb(188,66,56)" fill-opacity="0.264"/>
<rect x="1806.2" y="622.1" width="9.6" height="64" fill="rgb(188,66,56)" fill-opacity="0.266"/>
<rect x="1818.2" y="622.1" width="9.6" height="64" fill="rgb(188,66,56)" fill-opacity="0.287"/>
<rect x="1830.2" y="622.1" width="9.6" height="64" fill="rgb(188,66,56)" fill-opacity="0.330"/>
</g>
<g id="markers">
<line x1="379.5" y1="708.6" x2="379.5" y2="747.8" stroke="#edf1f4" stroke-width="1.6"/>
<line x1="379.5" y1="770.6" x2="379.5" y2="822.8" stroke="#edf1f4" stroke-width="1.6"/>
<line x1="379.5" y1="823.8" x2="379.5" y2="832" stroke="#9a9da0" stroke-width="1.8"/>
<line x1="695.0" y1="708.6" x2="695.0" y2="747.8" stroke="#edf1f4" stroke-width="1.6"/>
<line x1="695.0" y1="770.6" x2="695.0" y2="822.8" stroke="#edf1f4" stroke-width="1.6"/>
<line x1="695.0" y1="823.8" x2="695.0" y2="832" stroke="#9a9da0" stroke-width="1.8"/>
<line x1="1007.3" y1="708.6" x2="1007.3" y2="747.8" stroke="#edf1f4" stroke-width="1.6"/>
<line x1="1007.3" y1="770.6" x2="1007.3" y2="822.8" stroke="#edf1f4" stroke-width="1.6"/>
<line x1="1007.3" y1="823.8" x2="1007.3" y2="832" stroke="#9a9da0" stroke-width="1.8"/>
<line x1="1322.3" y1="708.6" x2="1322.3" y2="747.8" stroke="#edf1f4" stroke-width="1.6"/>
<line x1="1322.3" y1="770.6" x2="1322.3" y2="822.8" stroke="#edf1f4" stroke-width="1.6"/>
<line x1="1322.3" y1="823.8" x2="1322.3" y2="832" stroke="#9a9da0" stroke-width="1.8"/>
<line x1="1632.0" y1="708.6" x2="1632.0" y2="747.8" stroke="#edf1f4" stroke-width="1.6"/>
<line x1="1632.0" y1="770.6" x2="1632.0" y2="822.8" stroke="#edf1f4" stroke-width="1.6"/>
<line x1="1632.0" y1="823.8" x2="1632.0" y2="832" stroke="#9a9da0" stroke-width="1.8"/>
<line x1="119" y1="728.3" x2="1835" y2="728.3" stroke="#d2d5d7" stroke-width="2.2"/>
<line x1="119" y1="795.9" x2="1835" y2="795.9" stroke="#d2d5d7" stroke-width="2.2"/>
<line x1="114" y1="822.9" x2="1840" y2="822.9" stroke="#d2d5d7" stroke-width="2.2"/>
<clipPath id="mclip"><rect x="113" y="708.8" width="1727" height="38.8"/></clipPath>
<g clip-path="url(#mclip)">
<path d="M395.2,721.7H418.8L407.0,706.7Z" fill="#1a9e4b"/>
<path d="M635.2,721.7H658.8L647.0,706.7Z" fill="#1a9e4b"/>
<path d="M671.2,721.7H694.8L683.0,706.7Z" fill="#1a9e4b"/>
<path d="M959.2,721.7H982.8L971.0,706.7Z" fill="#1a9e4b"/>
<path d="M1259.2,721.7H1282.8L1271.0,706.7Z" fill="#1a9e4b"/>
<path d="M1559.2,721.7H1582.8L1571.0,706.7Z" fill="#1a9e4b"/>
<path d="M575.2,734.9H598.8L587.0,749.9Z" fill="#d62728"/>
<path d="M647.2,734.9H670.8L659.0,749.9Z" fill="#d62728"/>
<path d="M803.2,734.9H826.8L815.0,749.9Z" fill="#d62728"/>
<path d="M1187.2,734.9H1210.8L1199.0,749.9Z" fill="#d62728"/>
<path d="M1403.2,734.9H1426.8L1415.0,749.9Z" fill="#d62728"/>
<path d="M1607.2,734.9H1630.8L1619.0,749.9Z" fill="#d62728"/>
</g></g>
<text x="379.5" y="858" font-size="22" fill="#2c2c2c" text-anchor="middle">Jul 2023</text>
<text x="695.0" y="858" font-size="22" fill="#2c2c2c" text-anchor="middle">Jan 2024</text>
<text x="1007.3" y="858" font-size="22" fill="#2c2c2c" text-anchor="middle">Jul 2024</text>
<text x="1322.3" y="858" font-size="22" fill="#2c2c2c" text-anchor="middle">Jan 2025</text>
<text x="1632.0" y="858" font-size="22" fill="#2c2c2c" text-anchor="middle">Jul 2025</text>
<text x="1921.4" y="792.3" font-size="24" fill="#8c8c8c" text-anchor="end">source: sharemaestro.com</text>
<g id="legend">
<line x1="130.5" y1="939.8" x2="190" y2="939.8" stroke="#8a8a8a" stroke-width="2" stroke-dasharray="7,4.9"/>
<text x="200.8" y="948.6" font-size="24" fill="#333333">Raw (unsmoothed)</text>
<line x1="448.2" y1="939.8" x2="507.8" y2="939.8" stroke="#111111" stroke-width="3.6"/>
<text x="518" y="948.6" font-size="24" fill="#333333">Weekly Close</text>
<line x1="697.9" y1="939.8" x2="757" y2="939.8" stroke="#1f77b4" stroke-width="2.4" stroke-dasharray="18.3,17.5"/>
<text x="768" y="948.6" font-size="24" fill="#333333">Baseline (0)</text>
<line x1="931" y1="939.8" x2="990" y2="939.8" stroke="#f4a460" stroke-width="2" stroke-dasharray="7,4.9"/>
<text x="1001.5" y="948.6" font-size="24" fill="#333333">Top</text>
<line x1="1063.7" y1="939.8" x2="1123" y2="939.8" stroke="#17becf" stroke-width="2.2" stroke-dasharray="7,4.9"/>
<text x="1134" y="948.6" font-size="24" fill="#333333">Bottom</text>
<path d="M1259.9,945H1283.5L1271.7,930Z" fill="#1a9e4b"/>
<text x="1312" y="948.6" font-size="24" fill="#333333">Flip Up (Red→Green)</text>
<path d="M1597.3,934.8H1620.9L1609.1,949.8Z" fill="#d62728"/>
<text x="1648.8" y="948.6" font-size="24" fill="#333333">Flip Down (Green→Red)</text>
</g>
</svg></body></html>
